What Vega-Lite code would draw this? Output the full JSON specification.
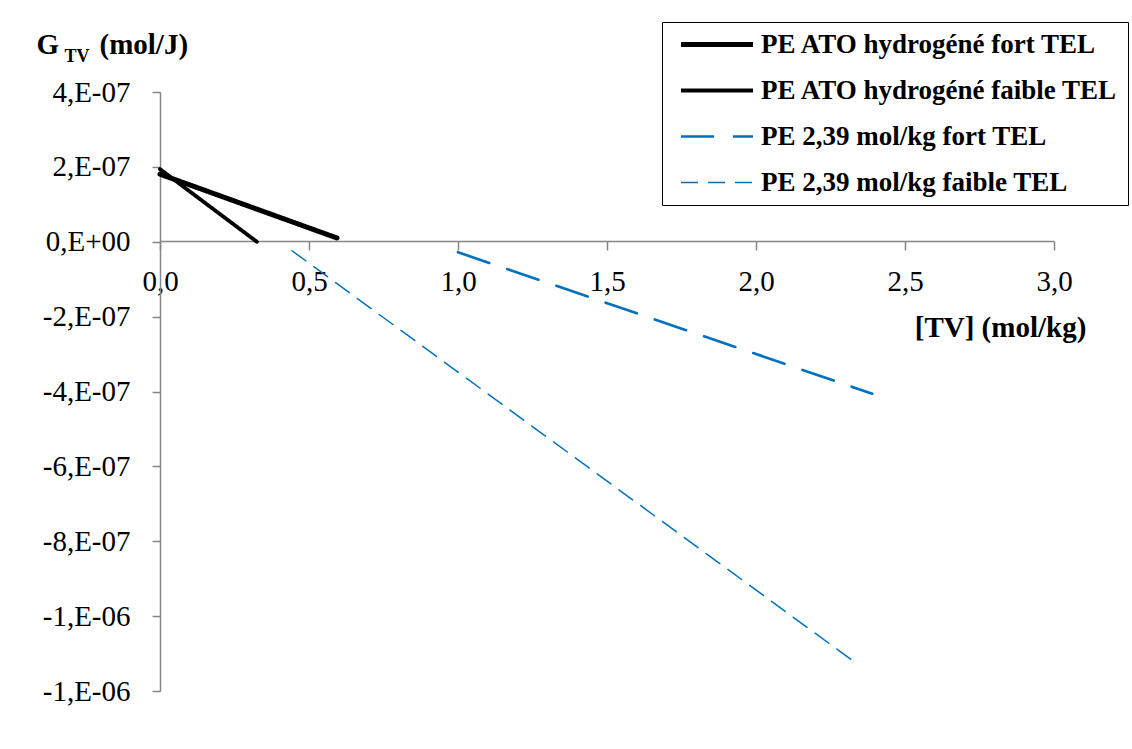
{
  "$schema": "https://vega.github.io/schema/vega-lite/v6.json",
  "autosize": {"type": "none"},
  "width": 894,
  "height": 599,
  "padding": {"left": 160, "top": 92, "right": 78, "bottom": 58},
  "background": "white",
  "config": {
    "view": {"stroke": null},
    "font": "Times New Roman, Liberation Serif, serif",
    "axis": {
      "grid": false,
      "domainColor": "#868686",
      "tickColor": "#868686",
      "domainWidth": 1.5,
      "tickWidth": 1.5,
      "labelFont": "Times New Roman, Liberation Serif, serif",
      "labelFontSize": 29,
      "labelColor": "black",
      "titleFont": "Times New Roman, Liberation Serif, serif",
      "titleColor": "black"
    },
    "legend": {
      "orient": "none",
      "legendX": 502,
      "legendY": -70,
      "strokeColor": "black",
      "fillColor": "white",
      "padding": 9,
      "symbolType": "M-0.333,0H6.524",
      "symbolSize": 441,
      "labelFont": "Times New Roman, Liberation Serif, serif",
      "labelFontSize": 27,
      "labelFontWeight": "bold",
      "labelColor": "black",
      "labelLimit": 0,
      "rowPadding": 18,
      "labelOffset": 63
    }
  },
  "data": {
    "values": [
      {"series": "PE ATO hydrogéné fort TEL", "TV": 0, "G": 1.805e-7},
      {"series": "PE ATO hydrogéné fort TEL", "TV": 0.594, "G": 1.0e-8},
      {"series": "PE ATO hydrogéné faible TEL", "TV": 0, "G": 1.94e-7},
      {"series": "PE ATO hydrogéné faible TEL", "TV": 0.325, "G": 0},
      {"series": "PE 2,39 mol/kg fort TEL", "TV": 1.0, "G": -2.8e-8},
      {"series": "PE 2,39 mol/kg fort TEL", "TV": 2.39, "G": -4.06e-7},
      {"series": "PE 2,39 mol/kg faible TEL", "TV": 0.443, "G": -2.4e-8},
      {"series": "PE 2,39 mol/kg faible TEL", "TV": 2.326, "G": -1.12e-6}
    ]
  },
  "layer": [
    {
      "mark": {"type": "line", "clip": false, "strokeCap": "round"},
      "encoding": {
        "x": {
          "field": "TV",
          "type": "quantitative",
          "scale": {"domain": [0, 3], "nice": false},
          "axis": {
            "orient": "bottom",
            "offset": -450,
            "values": [0, 0.5, 1, 1.5, 2, 2.5, 3],
            "labelExpr": "replace(format(datum.value, '.1f'), '.', ',')",
            "tickSize": 9,
            "labelPadding": 17,
            "labelBaseline": "top",
            "labelFlush": false,
            "title": "[TV] (mol/kg)",
            "titleFontSize": 29,
            "titleFontWeight": "bold",
            "titleX": 840,
            "titleY": 95,
            "titleAlign": "center",
            "titleBaseline": "alphabetic"
          }
        },
        "y": {
          "field": "G",
          "type": "quantitative",
          "scale": {"domain": [-1.2e-6, 4e-7], "nice": false, "zero": false},
          "axis": {
            "orient": "left",
            "values": [-1.2e-6, -1e-6, -8e-7, -6e-7, -4e-7, -2e-7, 0, 2e-7, 4e-7],
            "labelExpr": "['-1,E-06','-1,E-06','-8,E-07','-6,E-07','-4,E-07','-2,E-07','0,E+00','2,E-07','4,E-07'][indexof([-12,-10,-8,-6,-4,-2,0,2,4], round(datum.value*1e7))]",
            "tickSize": 8,
            "labelPadding": 22,
            "labelFlush": false,
            "title": "G",
            "titleFontSize": 29,
            "titleFontWeight": "bold",
            "titleAngle": 0,
            "titleX": -124,
            "titleY": -39,
            "titleAlign": "left",
            "titleBaseline": "alphabetic"
          }
        },
        "color": {
          "field": "series",
          "type": "nominal",
          "scale": {
            "domain": ["PE ATO hydrogéné fort TEL", "PE ATO hydrogéné faible TEL", "PE 2,39 mol/kg fort TEL", "PE 2,39 mol/kg faible TEL"],
            "range": ["#000000", "#000000", "#0070C0", "#0070C0"]
          },
          "legend": {"title": null}
        },
        "strokeWidth": {
          "field": "series",
          "type": "nominal",
          "scale": {
            "domain": ["PE ATO hydrogéné fort TEL", "PE ATO hydrogéné faible TEL", "PE 2,39 mol/kg fort TEL", "PE 2,39 mol/kg faible TEL"],
            "range": [5, 1.5, 5, 1.5]
          },
          "legend": {"title": null}
        },
        "strokeDash": {
          "field": "series",
          "type": "nominal",
          "scale": {
            "domain": ["PE ATO hydrogéné fort TEL", "PE ATO hydrogéné faible TEL", "PE 2,39 mol/kg fort TEL", "PE 2,39 mol/kg faible TEL"],
            "range": [[1, 0], [1, 0], [33, 19], [17, 10]]
          },
          "legend": {"title": null}
        }
      }
    },
    {
      "mark": {"type": "rule", "opacity": 0},
      "encoding": {
        "y": {
          "field": "G",
          "type": "quantitative",
          "axis": {
            "orient": "left",
            "labels": false,
            "ticks": false,
            "domain": false,
            "title": "TV",
            "titleFontSize": 18,
            "titleFontWeight": "bold",
            "titleAngle": 0,
            "titleX": -96,
            "titleY": -31,
            "titleAlign": "left",
            "titleBaseline": "alphabetic"
          }
        }
      }
    },
    {
      "mark": {"type": "rule", "opacity": 0},
      "encoding": {
        "y": {
          "field": "G",
          "type": "quantitative",
          "axis": {
            "orient": "left",
            "labels": false,
            "ticks": false,
            "domain": false,
            "title": "(mol/J)",
            "titleFontSize": 29,
            "titleFontWeight": "bold",
            "titleAngle": 0,
            "titleX": -61,
            "titleY": -39,
            "titleAlign": "left",
            "titleBaseline": "alphabetic"
          }
        }
      }
    }
  ],
  "resolve": {"axis": {"y": "independent"}}
}
